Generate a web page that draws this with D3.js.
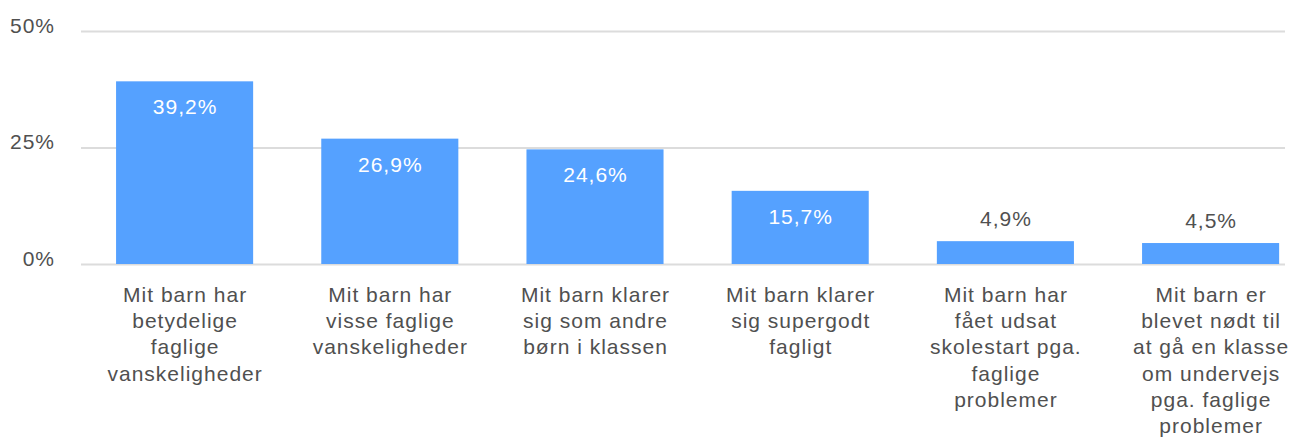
<!DOCTYPE html>
<html>
<head>
<meta charset="utf-8">
<script src="https://cdn.jsdelivr.net/npm/d3@7"></script>
<style>
  html, body { margin: 0; padding: 0; background: #fff; }
  svg { display: block; font-family: "Liberation Sans", Arial, sans-serif; letter-spacing: 1px; }
  .grid line { stroke: #dcdcdc; stroke-width: 2; }
  .grid .domain { display: none; }
  .grid text { fill: #505050; font-size: 21px; }
  .xlab text { fill: #505050; font-size: 21px; }
</style>
</head>
<body>
<svg id="chart" width="1290" height="439"></svg>
<script>
const categories = [
  'Mit barn har betydelige faglige vanskeligheder',
  'Mit barn har visse faglige vanskeligheder',
  'Mit barn klarer sig som andre børn i klassen',
  'Mit barn klarer sig supergodt fagligt',
  'Mit barn har fået udsat skolestart pga. faglige problemer',
  'Mit barn er blevet nødt til at gå en klasse om undervejs pga. faglige problemer'
];
const categoryLines = [
  ['Mit barn har', 'betydelige', 'faglige', 'vanskeligheder'],
  ['Mit barn har', 'visse faglige', 'vanskeligheder'],
  ['Mit barn klarer', 'sig som andre', 'børn i klassen'],
  ['Mit barn klarer', 'sig supergodt', 'fagligt'],
  ['Mit barn har', 'fået udsat', 'skolestart pga.', 'faglige', 'problemer'],
  ['Mit barn er', 'blevet nødt til', 'at gå en klasse', 'om undervejs', 'pga. faglige', 'problemer']
];
const values = [39.2, 26.9, 24.6, 15.7, 4.9, 4.5];
const yTicks = [0, 25, 50];

const fmt = v => String(v.toFixed(1)).replace('.', ',') + '%';

const svg = d3.select('#chart');
const plotLeft = 81, gridRight = 1285, plotTop = 31, plotBottom = 264;

const x = d3.scaleBand()
  .domain(categories)
  .range([82, 1313.2])
  .paddingInner(0.332)
  .paddingOuter(0.166);

const y = d3.scaleLinear().domain([0, 50]).range([plotBottom, plotTop]);

// gridlines + y labels
const yAxis = d3.axisLeft(y)
  .tickValues(yTicks)
  .tickFormat(d => d + '%')
  .tickSize(-(gridRight - plotLeft))
  .tickPadding(26);

svg.append('g')
  .attr('class', 'grid')
  .attr('transform', `translate(${plotLeft},0)`)
  .call(yAxis)
  .call(g => g.selectAll('text').attr('dy', '0.05em'))
  .attr('font-family', null)
  .attr('font-size', null);

// bars
svg.append('g')
  .selectAll('rect')
  .data(values)
  .join('rect')
  .attr('x', (d, i) => x(categories[i]))
  .attr('y', d => y(d))
  .attr('width', x.bandwidth())
  .attr('height', d => y(0) - y(d))
  .attr('fill', '#55a1ff');

// value labels
svg.append('g')
  .selectAll('text')
  .data(values)
  .join('text')
  .attr('x', (d, i) => x(categories[i]) + x.bandwidth() / 2 + 0.5)
  .attr('y', d => (y(0) - y(d)) > 40 ? y(d) + 33 : y(d) - 15)
  .attr('text-anchor', 'middle')
  .attr('font-size', '21px')
  .attr('fill', d => (y(0) - y(d)) > 40 ? '#fff' : '#505050')
  .text(d => fmt(d));

// category labels
const xAxis = d3.axisBottom(x).tickSize(0).tickPadding(0);
const xg = svg.append('g')
  .attr('class', 'xlab')
  .attr('transform', `translate(0,${plotBottom})`)
  .call(xAxis)
  .attr('font-family', null)
  .attr('font-size', null);
xg.select('.domain').remove();
xg.selectAll('.tick text')
  .attr('dy', null)
  .attr('y', 38)
  .each(function (d, i) {
    const t = d3.select(this).text(null);
    categoryLines[i].forEach((line, j) => {
      t.append('tspan')
        .attr('x', 0.5)
        .attr('y', 38 + j * 26.2)
        .text(line);
    });
  });
</script>
</body>
</html>
